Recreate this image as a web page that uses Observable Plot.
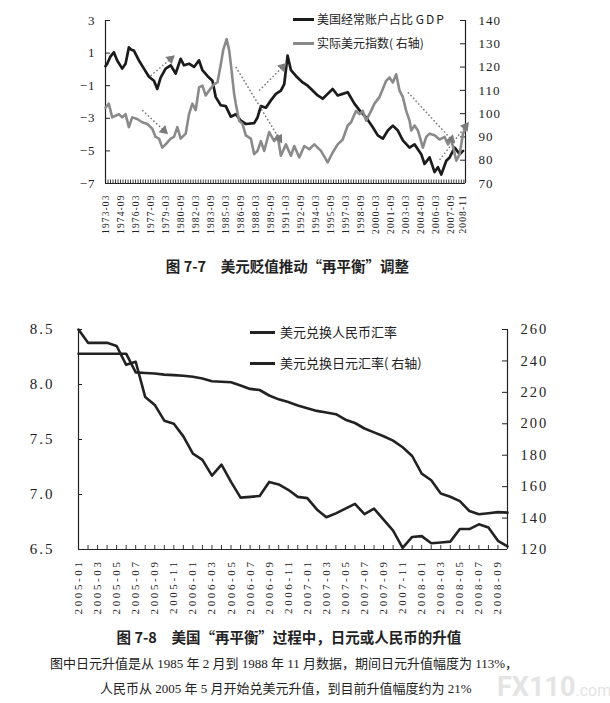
<!DOCTYPE html>
<html><head><meta charset="utf-8">
<script src="https://cdn.jsdelivr.net/npm/d3@7"></script>
<script src="https://cdn.jsdelivr.net/npm/@observablehq/plot@0.6"></script>
<style>
body{margin:0;background:#fff;}
#page{position:relative;width:610px;height:703px;overflow:hidden;background:#fff;font-family:"Noto Sans CJK SC",sans-serif;color:#222;}
.abs{position:absolute;white-space:nowrap;}
.sw{position:absolute;height:3px;}
.lg{position:absolute;white-space:nowrap;line-height:16px;}
.cap{position:absolute;left:0;text-align:center;font-weight:bold;font-size:14.5px;line-height:18px;white-space:nowrap;}
.note{position:absolute;white-space:nowrap;font-family:"Liberation Serif","Noto Sans CJK SC",serif;font-size:13px;line-height:16px;}
</style></head><body>
<div id="page">
  <div id="c1" class="abs" style="left:0;top:0"></div>
  <div id="c2" class="abs" style="left:0;top:300px"></div>
  <div class="sw" style="left:293px;top:17.5px;width:21px;background:#1b1b1b"></div>
  <div class="lg" style="left:317px;top:11px;font-size:12px">美国经常账户占比 <span style="letter-spacing:2px">GDP</span></div>
  <div class="sw" style="left:293px;top:41.5px;width:21px;background:#8a8a8a"></div>
  <div class="lg" style="left:317px;top:35px;font-size:12px">实际美元指数( 右轴)</div>
  <div class="cap" style="top:257px;width:575px">图 7-7　美元贬值推动“再平衡”调整</div>
  <div class="sw" style="left:250px;top:331px;width:25px;height:2.5px;background:#222"></div>
  <div class="lg" style="left:280px;top:324px;font-size:13px">美元兑换人民币汇率</div>
  <div class="sw" style="left:250px;top:362px;width:25px;height:2.5px;background:#222"></div>
  <div class="lg" style="left:280px;top:355px;font-size:13px">美元兑换日元汇率( 右轴)</div>
  <div class="cap" style="top:628px;width:578px">图 7-8　美国“再平衡”过程中，日元或人民币的升值</div>
  <div class="note" style="left:50px;top:656px">图中日元升值是从 1985 年 2 月到 1988 年 11 月数据，期间日元升值幅度为 113%，</div>
  <div class="note" style="left:100px;top:681px">人民币从 2005 年 5 月开始兑美元升值，到目前升值幅度约为 21%</div>
  <div class="abs" style="left:497px;top:672px;color:#e4e4e4;font-family:Roboto,sans-serif;font-weight:bold;font-size:27px;line-height:30px">FX110<span style="font-size:16px;font-weight:normal">.com</span></div>
</div>
<script>
// ---------- Chart 7-7 data ----------
const caDates = ["1973-03","1973-05","1973-09","1974-01","1974-05","1974-11","1975-03","1975-07","1975-10","1976-01","1976-07","1977-01","1977-07","1978-01","1978-05","1978-09","1979-03","1979-09","1980-03","1980-09","1981-01","1981-07","1982-01","1982-07","1982-11","1983-05","1983-11","1984-03","1984-09","1985-03","1985-09","1986-03","1986-09","1987-03","1988-01","1988-05","1988-09","1989-03","1989-09","1990-03","1990-09","1991-01","1991-05","1991-09","1992-03","1992-11","1993-05","1993-11","1994-05","1994-11","1995-05","1995-11","1996-05","1996-11","1997-05","1998-01","1998-07","1999-03","1999-11","2000-05","2000-11","2001-05","2001-11","2002-05","2002-11","2003-07","2004-01","2004-09","2005-01","2005-07","2006-01","2006-05","2006-09","2007-03","2007-07","2008-01","2008-07","2008-11"];
const caValues = [0.2,0.35,0.8,1.05,0.55,0.05,0.35,1.35,1.2,1.15,0.55,0.05,-0.45,-0.7,-1.2,-0.5,0.05,0.25,-0.25,0.65,0.25,0.35,0.15,0.55,-0.05,-0.4,-0.7,-1.7,-2.2,-2.25,-2.9,-2.75,-3.15,-3.35,-3.3,-2.95,-2.25,-2.35,-1.9,-1.5,-1.3,-0.9,0.85,-0.05,-0.4,-0.8,-1.0,-1.3,-1.6,-1.8,-1.5,-1.2,-1.6,-1.5,-1.4,-2.1,-2.5,-2.95,-3.55,-4.05,-4.25,-3.75,-3.45,-3.75,-4.35,-4.8,-4.6,-5.2,-5.8,-5.4,-6.3,-6.0,-6.45,-5.6,-5.4,-4.8,-5.2,-5.0];
const dxyDates = ["1973-03","1973-07","1973-11","1974-03","1974-07","1974-11","1975-03","1975-07","1975-11","1976-05","1976-11","1977-05","1977-11","1978-03","1978-07","1978-11","1979-03","1979-09","1980-01","1980-05","1980-09","1981-03","1981-07","1981-11","1982-03","1982-07","1982-11","1983-03","1983-07","1984-01","1984-05","1984-09","1984-12","1985-04","1985-07","1985-09","1986-01","1986-03","1986-07","1986-11","1987-03","1987-09","1988-01","1988-05","1988-09","1989-01","1989-07","1990-01","1990-05","1990-09","1991-03","1991-09","1992-01","1992-07","1993-01","1993-07","1994-01","1994-09","1995-05","1995-11","1996-05","1996-11","1997-05","1997-09","1998-03","1998-07","1998-11","1999-03","1999-09","2000-01","2000-07","2000-11","2001-03","2001-07","2001-11","2002-03","2002-07","2002-11","2003-03","2003-07","2003-09","2004-01","2004-05","2004-11","2005-03","2005-07","2006-01","2006-07","2007-01","2007-05","2007-09","2008-03","2008-07","2008-11","2009-02"];
const dxyValues = [102.6,104.3,98.4,99.1,99.8,98.4,99.8,94.2,98.4,97.7,96.3,95.6,93.5,90.0,89.3,85.4,86.8,89.3,90.0,94.2,89.3,91.4,99.8,104.3,101.5,111.3,112.0,107.8,109.9,112.7,113.4,121.1,127.4,132.0,127.4,121.5,108.5,104.3,96.9,95.6,90.7,89.3,82.6,84.0,88.2,84.0,92.1,88.2,90.7,81.9,86.8,81.9,86.1,81.2,86.1,84.7,86.8,84.0,79.1,83.3,86.8,88.9,94.9,96.3,101.2,99.8,101.2,97.0,101.2,104.3,107.1,110.6,114.1,115.5,113.4,116.9,109.9,107.1,101.2,97.0,92.8,94.9,92.8,85.4,90.0,91.4,90.7,88.9,90.0,86.8,88.9,79.8,82.6,91.4,93.5];
const xLabels1 = ["1973-03","1974-09","1976-03","1977-09","1979-03","1980-09","1982-03","1983-09","1985-03","1986-09","1988-03","1989-09","1991-03","1992-09","1994-03","1995-09","1997-03","1998-09","2000-03","2001-09","2003-03","2004-09","2006-03","2007-09","2008-11"];
const leftTicks1 = [3,1,-1,-3,-5,-7];
const rightTicks1 = [140,130,120,110,100,90,80,70];
const arrowFrom = ["1977-09","1976-11","1986-03","1988-07","2003-05","2006-07"];
const arrowFromY = [-0.4,-2.5,0.15,-1.3,-1.4,-5.55];
const arrowTo = ["1979-09","1979-01","1990-07","1990-11","2007-09","2009-02"];
const arrowToY = [0.65,-3.75,-4.25,0.15,-4.3,-3.5];

// ---------- Chart 7-8 data ----------
const months2 = ["2005-01","2005-02","2005-03","2005-04","2005-05","2005-06","2005-07","2005-08","2005-09","2005-10","2005-11","2005-12","2006-01","2006-02","2006-03","2006-04","2006-05","2006-06","2006-07","2006-08","2006-09","2006-10","2006-11","2006-12","2007-01","2007-02","2007-03","2007-04","2007-05","2007-06","2007-07","2007-08","2007-09","2007-10","2007-11","2007-12","2008-01","2008-02","2008-03","2008-04","2008-05","2008-06","2008-07","2008-08","2008-09","2008-10"];
const rmbValues = [8.28,8.28,8.28,8.28,8.28,8.28,8.11,8.105,8.10,8.09,8.085,8.08,8.07,8.055,8.03,8.025,8.02,7.99,7.96,7.95,7.90,7.865,7.84,7.81,7.785,7.76,7.745,7.73,7.68,7.65,7.60,7.565,7.53,7.49,7.43,7.35,7.19,7.13,7.01,6.98,6.94,6.85,6.82,6.83,6.84,6.835];
const yenValues = [260,251.5,251.5,251.5,249.5,237.5,239.5,217,212,202,200,192,181,177,167,174,163,153,153.5,154,163,161.4,158,153.5,152.7,145.5,140.5,143,146,149,142.5,146,139,132,121,128,128.5,124,124.5,125,133,133,136,134,125.5,122];
const xLabels2 = ["2005-01","2005-03","2005-05","2005-07","2005-09","2005-11","2006-01","2006-03","2006-05","2006-07","2006-09","2006-11","2007-01","2007-03","2007-05","2007-07","2007-09","2007-11","2008-01","2008-03","2008-05","2008-07","2008-09"];
const leftTicks2 = [8.5,8.0,7.5,7.0,6.5];
const rightTicks2 = [260,240,220,200,180,160,140,120];

// ---------- helpers ----------
const serif = "'Liberation Serif','DejaVu Serif',serif";
const idx1 = s => { const [Y,M] = s.split("-").map(Number); return (Y-1973)*12 + (M-3); };
const r2l1 = r => (r-70)/7 - 7;       // right axis (70..140) -> left (-7..3)
const l2r1 = v => Math.round(70 + (v+7)*7);
const x1max = idx1("2009-02");

const W1 = 610 - 105 - 145, H1 = 245 - 20 - 62;
const kx1 = W1 / x1max, ky1 = H1 / 10;
const caData = caDates.map((d,i)=>({x: idx1(d), y: caValues[i]}));
const dxyData = dxyDates.map((d,i)=>({x: idx1(d), y: r2l1(dxyValues[i])}));
const arrows = arrowFrom.map((d,i)=>{
  const x1 = idx1(d), y1 = arrowFromY[i], x2 = idx1(arrowTo[i]), y2 = arrowToY[i];
  const ang = Math.atan2((x2-x1)*kx1, (y2-y1)*ky1) * 180 / Math.PI;
  return {x1, y1, x2, y2, ang};
});
const lab1 = new Map(xLabels1.map(s=>[idx1(s), s]));

const p1 = Plot.plot({
  width: 610, height: 245, marginLeft: 105, marginRight: 145, marginTop: 20, marginBottom: 62,
  x: {domain: [0, x1max], axis: null},
  y: {domain: [-7, 3], axis: null},
  style: {fontFamily: serif, background: "transparent", color: "#222", overflow: "visible"},
  marks: [
    Plot.ruleX([0, x1max], {stroke: "#222", strokeWidth: 1.2}),
    Plot.ruleY([-7], {stroke: "#222", strokeWidth: 1.2}),
    Plot.ruleY(leftTicks1, {insetRight: W1 - 5, stroke: "#222"}),
    Plot.ruleY(rightTicks1.map(r2l1), {insetLeft: W1 - 5, stroke: "#222"}),
    Plot.ruleX(d3.range(0, x1max + 1, 3), {insetTop: H1 - 3.5, stroke: "#222", strokeWidth: 0.9}),
    Plot.line(caData, {x: "x", y: "y", stroke: "#1b1b1b", strokeWidth: 2.7, strokeLinejoin: "round"}),
    Plot.line(dxyData, {x: "x", y: "y", stroke: "#8a8a8a", strokeWidth: 2.6, strokeLinejoin: "round"}),
    Plot.link(arrows, {x1: "x1", y1: "y1", x2: "x2", y2: "y2", stroke: "#7a7a7a", strokeWidth: 1.5, strokeDasharray: "1.6,2.2"}),
    Plot.dot(arrows, {x: "x2", y: "y2", rotate: "ang", symbol: "triangle", r: 3.6, fill: "#7a7a7a", stroke: "none"}),
    Plot.axisY(leftTicks1, {anchor: "left", label: null, tickSize: 0, tickPadding: 10, fontSize: 13}),
    Plot.axisY(rightTicks1.map(r2l1), {anchor: "right", label: null, tickSize: 0, tickPadding: 13, fontSize: 13, tickFormat: d => l2r1(d)}),
    Plot.axisX(xLabels1.map(idx1), {anchor: "bottom", label: null, tickSize: 0, tickPadding: 11, tickRotate: -90, fontSize: 9.5, tickFormat: d => lab1.get(d)})
  ]
});
d3.select(p1).selectAll('g[aria-label="x-axis tick label"]').attr("letter-spacing", "1.1px");
d3.select(p1).selectAll('g[aria-label="y-axis tick label"]').attr("letter-spacing", "1px");
document.getElementById("c1").append(p1);

// ---------- Chart 7-8 ----------
const r2l2 = r => 6.5 + (r-120)/70;
const l2r2 = v => Math.round(120 + (v-6.5)*70);
const idx2 = s => months2.indexOf(s);
const rmbData = months2.map((d,i)=>({x: i, y: rmbValues[i]}));
const yenData = months2.map((d,i)=>({x: i, y: r2l2(yenValues[i])}));
const W2 = 610 - 78 - 103, H2 = 330 - 29 - 81;
const p2 = Plot.plot({
  width: 610, height: 330, marginLeft: 78, marginRight: 103, marginTop: 29, marginBottom: 81,
  x: {domain: [0, months2.length - 1], axis: null},
  y: {domain: [6.5, 8.5], axis: null},
  style: {fontFamily: serif, background: "transparent", color: "#222", overflow: "visible"},
  marks: [
    Plot.ruleX([0, months2.length - 1], {stroke: "#222", strokeWidth: 1.2}),
    Plot.ruleY([6.5], {stroke: "#222", strokeWidth: 1.2}),
    Plot.ruleY(leftTicks2, {insetRight: W2 - 4, stroke: "#222"}),
    Plot.ruleY(rightTicks2.map(r2l2), {insetLeft: W2 - 5, stroke: "#222"}),
    Plot.ruleX(d3.range(0, months2.length), {insetTop: H2 - 4, stroke: "#222", strokeWidth: 0.9}),
    Plot.line(rmbData, {x: "x", y: "y", stroke: "#222", strokeWidth: 2.6, strokeLinejoin: "round"}),
    Plot.line(yenData, {x: "x", y: "y", stroke: "#222", strokeWidth: 2.6, strokeLinejoin: "round"}),
    Plot.axisY(leftTicks2, {anchor: "left", label: null, tickSize: 0, tickPadding: 24, fontSize: 15, tickFormat: d => d.toFixed(1)}),
    Plot.axisY(rightTicks2.map(r2l2), {anchor: "right", label: null, tickSize: 0, tickPadding: 13, fontSize: 14.5, tickFormat: d => l2r2(d)}),
    Plot.axisX(xLabels2.map(idx2), {anchor: "bottom", label: null, tickSize: 0, tickPadding: 10, tickRotate: -90, fontSize: 11, tickFormat: d => months2[d]})
  ]
});
d3.select(p2).selectAll('g[aria-label="x-axis tick label"]').attr("letter-spacing", "2.6px");
d3.select(p2).selectAll('g[aria-label="y-axis tick label"]').attr("letter-spacing", "2px");
document.getElementById("c2").append(p2);
</script>
</body></html>
